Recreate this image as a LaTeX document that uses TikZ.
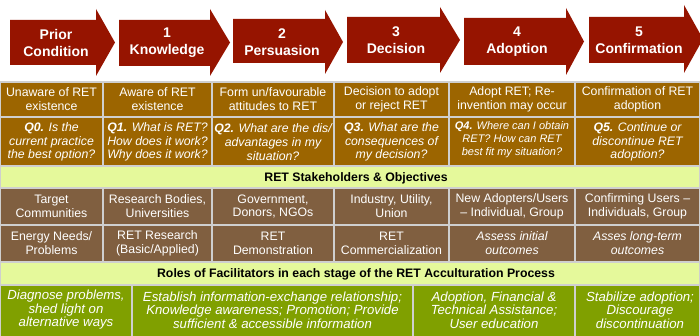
\documentclass[tikz,border=0pt]{standalone}
\usepackage{fontspec}
\setmainfont{Liberation Sans}
\definecolor{arrowred}{HTML}{961400}
\definecolor{stagebrown}{HTML}{9C6500}
\definecolor{stakebrown}{HTML}{805F40}
\definecolor{bandgreen}{HTML}{E5F99B}
\definecolor{rolegreen}{HTML}{80A000}
\definecolor{gridgray}{HTML}{CFCFCF}
\begin{document}
\begin{tikzpicture}[x=1pt,y=-1pt,
  stagearrow/.style={fill=arrowred},
  headtxt/.style={text=white,font=\fontsize{14}{17}\selectfont\bfseries,align=center,inner sep=0pt},
  cellA/.style={fill=stagebrown,draw=gridgray,line width=1.5pt},
  cellC/.style={fill=stakebrown,draw=gridgray,line width=1.5pt},
  cellE/.style={fill=rolegreen,draw=gridgray,line width=1.5pt},
  band/.style={fill=bandgreen,draw=gridgray,line width=1.5pt},
  txt/.style={text=white,font=\fontsize{12.3}{13.8}\selectfont,align=center,inner sep=0pt},
  qtxt/.style={text=white,font=\fontsize{12.3}{13.8}\selectfont\itshape,align=center,inner sep=0pt},
  qsmall/.style={text=white,font=\fontsize{11}{13}\selectfont\itshape,align=center,inner sep=0pt},
  itxt/.style={text=white,font=\fontsize{12.3}{13.8}\selectfont\itshape,align=center,inner sep=0pt},
  etxt/.style={text=white,font=\fontsize{13.2}{13.5}\selectfont\itshape,align=center,inner sep=0pt},
  bandtxt/.style={text=black,font=\fontsize{12.3}{14}\selectfont\bfseries,inner sep=0pt}]
\useasboundingbox (0,0) rectangle (700,336);
\fill[white] (0,0) rectangle (700,336);
% stage arrows
\fill[stagearrow] (10,20) -- (96,20) -- (96,9) -- (115,42.5) -- (96,76) -- (96,65) -- (10,65) -- cycle;
\fill[stagearrow] (119,20) -- (210,20) -- (210,9) -- (230,42.5) -- (210,76) -- (210,66) -- (119,66) -- cycle;
\fill[stagearrow] (233,19) -- (325,19) -- (325,10) -- (343,42) -- (325,74) -- (325,63) -- (233,63) -- cycle;
\fill[stagearrow] (347,17) -- (440,17) -- (440,7) -- (460,40) -- (440,73) -- (440,63) -- (347,63) -- cycle;
\fill[stagearrow] (464,18) -- (566,18) -- (566,8) -- (584,41.5) -- (566,75) -- (566,65) -- (464,65) -- cycle;
\fill[stagearrow] (589,17) -- (684,17) -- (684,5) -- (703,39) -- (684,73) -- (684,63) -- (589,63) -- cycle;
\node[headtxt] (h0) at (56,43) {Prior\\Condition};
\node[headtxt] (h1) at (167,43) {1\\Knowledge};
\node[headtxt] (h2) at (282,42) {2\\Persuasion};
\node[headtxt] (h3) at (396,40) {3\\Decision};
\node[headtxt] (h4) at (517,41.5) {4\\Adoption};
\node[headtxt] (h5) at (639,40) {5\\Confirmation};
% rows A-D cells
\foreach \xa/\xb in {0/103,103/212,212/334,334/449,449/575,575/700}{
  \path[cellA] (\xa,82) rectangle (\xb,117);
  \path[cellA] (\xa,117) rectangle (\xb,166);
  \path[cellC] (\xa,188) rectangle (\xb,225);
  \path[cellC] (\xa,225) rectangle (\xb,262);
}
\node[txt] (a1) at (51.5,99.5) {Unaware of RET\\existence};
\node[txt] (a2) at (157.5,99.5) {Aware of RET\\existence};
\node[txt] (a3) at (273,99.5) {Form un/favourable\\attitudes to RET};
\node[txt] (a4) at (391.5,99.5) {Decision to adopt\\or reject RET};
\node[txt] (a5) at (512,99.5) {Adopt RET; Re-\\invention may occur};
\node[txt] (a6) at (637.5,99.5) {Confirmation of RET\\adoption};
\node[qtxt] (b1) at (51.5,142) {\textbf{Q0.} Is the\\current practice\\the best option?};
\node[qtxt] (b2) at (157.5,142) {\textbf{Q1.} What is RET?\\How does it work?\\Why does it work?};
\node[qtxt] (b3) at (273,142) {\textbf{Q2.} What are the dis/\\advantages in my\\situation?};
\node[qtxt] (b4) at (391.5,142) {\textbf{Q3.} What are the\\consequences of\\my decision?};
\node[qsmall] (b5) at (512,140) {\textbf{Q4.} Where can I obtain\\RET? How can RET\\best fit my situation?};
\node[qtxt] (b6) at (637.5,142) {\textbf{Q5.} Continue or\\discontinue RET\\adoption?};
% band 1
\path[band] (0,166) rectangle (700,188);
\node[bandtxt] (s0) at (356,178) {RET Stakeholders \& Objectives};
\node[txt] (c1) at (51.5,206.5) {Target\\Communities};
\node[txt] (c2) at (157.5,206.5) {Research Bodies,\\Universities};
\node[txt] (c3) at (273,206.5) {Government,\\Donors, NGOs};
\node[txt] (c4) at (391.5,206.5) {Industry, Utility,\\Union};
\node[txt] (c5) at (512,206.5) {New Adopters/Users\\– Individual, Group};
\node[txt] (c6) at (637.5,206.5) {Confirming Users –\\Individuals, Group};
\node[txt] (d1) at (51.5,243.5) {Energy Needs/\\Problems};
\node[txt] (d2) at (157.5,243.5) {RET Research\\(Basic/Applied)};
\node[txt] (d3) at (273,243.5) {RET\\Demonstration};
\node[txt] (d4) at (391.5,243.5) {RET\\Commercialization};
\node[itxt] (d5) at (512,243.5) {Assess initial\\outcomes};
\node[itxt] (d6) at (637.5,243.5) {Asses long-term\\outcomes};
% band 2
\path[band] (0,262) rectangle (700,285);
\node[bandtxt] (r0) at (356,274.5) {Roles of Facilitators in each stage of the RET Acculturation Process};
\foreach \xa/\xb in {0/132,132/413,413/575,575/700}{
  \path[cellE] (\xa,285) rectangle (\xb,345);
}
\node[etxt] (e1) at (66,310) {Diagnose problems,\\shed light on\\alternative ways};
\node[etxt] (e2) at (272.5,310) {Establish information-exchange relationship;\\Knowledge awareness; Promotion; Provide\\sufficient \& accessible information};
\node[etxt] (e3) at (494,310) {Adoption, Financial \&\\Technical Assistance;\\User education};
\node[etxt] (e4) at (640,310) {Stabilize adoption;\\Discourage\\discontinuation};
\end{tikzpicture}
\end{document}
